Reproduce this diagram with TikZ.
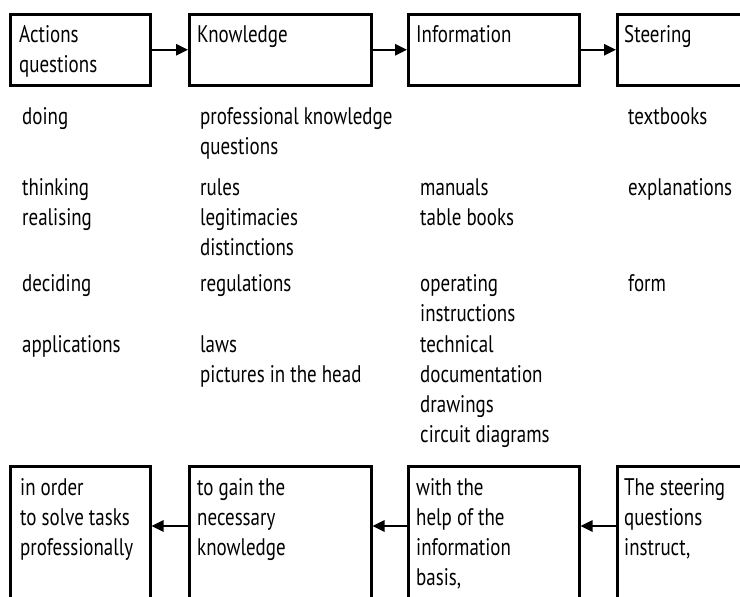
\documentclass[tikz,border=0pt]{standalone}
\usepackage{fontspec}
\setmainfont{PT Sans}[FakeStretch=0.79]
\usetikzlibrary{arrows.meta, positioning}

\begin{document}
\begin{tikzpicture}[x=1pt,y=-1pt,
		box/.style={rectangle,draw,line width=2.5pt,anchor=north west,inner sep=0pt},
		txt/.style={anchor=base west,align=left,inner sep=0pt,font=\fontsize{24}{30}\selectfont},
		arr/.style={line width=2.5pt,-{Triangle[length=12pt,width=11pt]}}]
		%\draw[gray,step=50] (0,0) grid (740,597);
		% text nodes sit on the baseline of their last line
		\useasboundingbox (0,0) rectangle (740,597);
		\clip (0,0) rectangle (740,597);

		\node[box,minimum width=140pt,minimum height=71pt] (A) at (9,13) {};
		\node[box,minimum width=182pt,minimum height=71pt] (B) at (188,13) {};
		\node[box,minimum width=171pt,minimum height=71pt] (C) at (407,13) {};
		\node[box,minimum width=180pt,minimum height=71pt] (D) at (616,13) {};

		\node[txt] (At) at (19,72) {Actions\\questions};
		\node[txt] (Bt) at (197,42) {Knowledge};
		\node[txt] (Ct) at (416,42) {Information};
		\node[txt] (Dt) at (624,42) {Steering};

		\draw[arr] (A) -- (B);
		\draw[arr] (B) -- (C);
		\draw[arr] (C) -- (D);

		\node[txt] (A1) at (22,124) {doing};
		\node[txt] (A2) at (22,225) {thinking\\realising};
		\node[txt] (A3) at (22,291) {deciding};
		\node[txt] (A4) at (22,352) {applications};

		\node[txt] (B1) at (200,154) {professional knowledge\\questions};
		\node[txt] (B2) at (200,255) {rules\\legitimacies\\distinctions};
		\node[txt] (B3) at (200,291) {regulations};
		\node[txt] (B4) at (200,382) {laws\\pictures in the head};

		\node[txt] (C2) at (420,225) {manuals\\table books};
		\node[txt] (C3) at (420,321) {operating\\instructions};
		\node[txt] (C4) at (420,442) {technical\\documentation\\drawings\\circuit diagrams};

		\node[txt] (D1) at (628,124) {textbooks};
		\node[txt] (D2) at (628,195) {explanations};
		\node[txt] (D3) at (628,291) {form};

		\node[box,minimum width=140pt,minimum height=200pt] (E) at (9,465) {};
		\node[box,minimum width=182pt,minimum height=200pt] (F) at (188,465) {};
		\node[box,minimum width=171pt,minimum height=200pt] (G) at (407,465) {};
		\node[box,minimum width=180pt,minimum height=200pt] (H) at (616,465) {};

		\node[txt] (Et) at (20,555) {in order\\to solve tasks\\professionally};
		\node[txt] (Ft) at (197,555) {to gain the\\necessary\\knowledge};
		\node[txt] (Gt) at (416,585) {with the\\help of the\\information\\basis,};
		\node[txt] (Ht) at (624,555) {The steering\\questions\\instruct,};

		\coordinate (low) at (0,526);
		\draw[arr] (H.west |- low) -- (G.east |- low);
		\draw[arr] (G.west |- low) -- (F.east |- low);
		\draw[arr] (F.west |- low) -- (E.east |- low);
	\end{tikzpicture}
\end{document}
